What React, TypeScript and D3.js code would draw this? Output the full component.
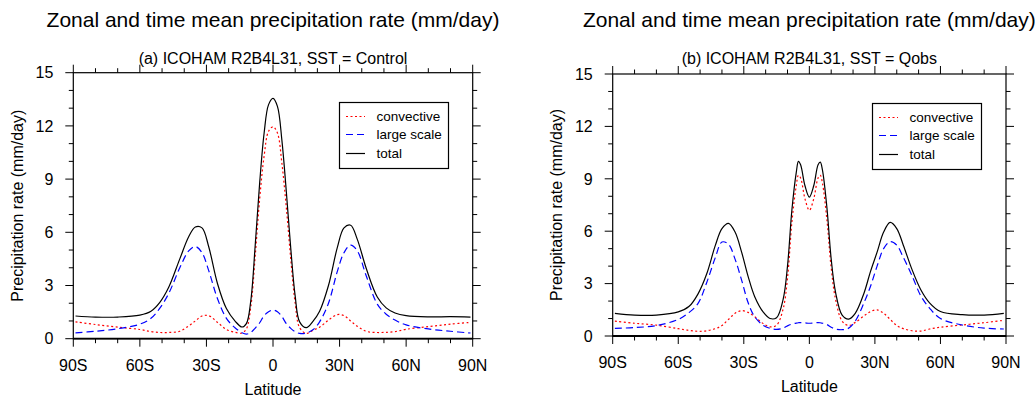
import React, { useEffect, useRef } from 'react';
import * as d3 from 'd3';

const W = 1035;
const H = 401;
const FONT = '"Liberation Sans", Arial, Helvetica, sans-serif';

const mainTitle = 'Zonal and time mean precipitation rate (mm/day)';
const subTitles = ['(a) ICOHAM R2B4L31, SST = Control', '(b) ICOHAM R2B4L31, SST = Qobs'];
const seriesNames = ['convective', 'large scale', 'total'];
const xTickValues = [-90, -60, -30, 0, 30, 60, 90];
const xTickLabels = ['90S', '60S', '30S', '0', '30N', '60N', '90N'];
const yTickValues = [0, 3, 6, 9, 12, 15];

// panel (a) - Control SST
const latA = [-89, -80, -70, -60, -55, -51, -47, -42, -38, -35, -32, -29, -25, -21, -17, -14, -12, -10, -8, -6, -4, -2, 0,
  2, 4, 6, 8, 10, 12, 15, 18, 21, 25, 29, 32, 35, 38, 42, 47, 51, 55, 60, 70, 80, 89];
const convA = [0.95, 0.8, 0.65, 0.52, 0.4, 0.35, 0.35, 0.42, 0.72, 1.0, 1.28, 1.3, 0.92, 0.52, 0.36, 0.32, 0.55, 1.8, 4.7, 7.9, 10.3, 11.7, 11.95,
  11.6, 9.9, 7.4, 4.5, 2.0, 0.62, 0.3, 0.48, 0.65, 1.05, 1.36, 1.3, 1.0, 0.7, 0.42, 0.35, 0.36, 0.4, 0.53, 0.68, 0.82, 0.92];
const largeA = [0.33, 0.42, 0.56, 0.82, 1.15, 1.72, 2.55, 4.0, 4.95, 5.2, 4.85, 3.85, 2.25, 1.15, 0.6, 0.34, 0.26, 0.35, 0.6, 0.9, 1.3, 1.52, 1.62,
  1.52, 1.25, 0.85, 0.58, 0.39, 0.3, 0.32, 0.5, 0.95, 2.0, 3.8, 4.85, 5.28, 4.95, 3.55, 1.95, 1.38, 1.05, 0.78, 0.55, 0.42, 0.32];
const totalA = [1.28, 1.22, 1.22, 1.33, 1.55, 2.05, 2.9, 4.5, 5.75, 6.3, 6.25, 5.2, 3.1, 1.7, 0.98, 0.66, 0.85, 2.15, 5.3, 8.8, 11.6, 13.2, 13.55,
  13.1, 11.2, 8.3, 5.1, 2.4, 0.95, 0.62, 0.98, 1.55, 3.0, 5.15, 6.25, 6.4, 5.6, 3.97, 2.35, 1.74, 1.45, 1.3, 1.23, 1.24, 1.22];

// panel (b) - Qobs SST
const latB = [-89, -80, -70, -60, -55, -51, -47, -43, -40, -37, -34, -31, -28, -25, -21, -18, -15, -12, -10, -8, -6, -5, -4, -2, 0,
  2, 4, 5, 6, 8, 10, 12, 15, 18, 21, 25, 28, 31, 34, 37, 40, 43, 47, 51, 55, 60, 70, 80, 89];
const convB = [0.85, 0.73, 0.62, 0.42, 0.32, 0.27, 0.3, 0.42, 0.6, 0.95, 1.3, 1.45, 1.35, 1.1, 0.7, 0.52, 0.62, 1.55, 3.3, 6.5, 8.6, 9.2, 9.05, 7.85, 7.2,
  7.85, 9.05, 9.2, 8.75, 6.7, 3.9, 2.1, 0.85, 0.6, 0.78, 1.15, 1.4, 1.5, 1.3, 0.95, 0.6, 0.42, 0.3, 0.28, 0.4, 0.5, 0.63, 0.76, 0.9];
const largeB = [0.44, 0.48, 0.6, 0.95, 1.35, 1.85, 3.05, 4.5, 5.38, 5.25, 4.4, 3.2, 1.9, 1.1, 0.6, 0.44, 0.38, 0.45, 0.58, 0.68, 0.74, 0.76, 0.77, 0.75, 0.73,
  0.75, 0.77, 0.76, 0.73, 0.66, 0.5, 0.4, 0.36, 0.45, 0.85, 1.9, 2.85, 4.0, 5.0, 5.4, 5.2, 4.5, 3.45, 2.3, 1.6, 1.0, 0.63, 0.45, 0.4];
const totalB = [1.3, 1.2, 1.2, 1.38, 1.7, 2.4, 3.55, 5.2, 6.15, 6.45, 5.95, 4.8, 3.4, 2.25, 1.35, 1.0, 1.05, 2.1, 4.0, 7.2, 9.35, 10.0, 9.8, 8.6, 7.95,
  8.6, 9.8, 9.95, 9.5, 7.4, 4.4, 2.5, 1.2, 0.97, 1.3, 2.45, 3.7, 4.8, 5.95, 6.5, 6.15, 5.2, 3.8, 2.65, 1.9, 1.4, 1.22, 1.2, 1.3];

const styles = [
  { color: '#ff0000', dash: '2,2.5' },
  { color: '#0000ff', dash: '7,4' },
  { color: '#000000', dash: null },
];

const panels = [
  { left: 73.3, right: 472.7, top: 72.7, bottom: 338.7, yTitleX: 22.5, lat: latA, series: [convA, largeA, totalA], sub: subTitles[0] },
  { left: 612.7, right: 1006, top: 74, bottom: 336, yTitleX: 562, lat: latB, series: [convB, largeB, totalB], sub: subTitles[1] },
];

const App = () => {
  const svgRef = useRef(null);

  useEffect(() => {
    const svg = d3.select(svgRef.current);
    svg.selectAll('*').remove();

    panels.forEach((p) => {
      const x = d3.scaleLinear().domain([-90, 90]).range([p.left, p.right]);
      const y = d3.scaleLinear().domain([0, 15]).range([p.bottom, p.top]);
      const cx = (p.left + p.right) / 2;
      const g = svg.append('g');

      // titles
      g.append('text').attr('x', cx).attr('y', 27).attr('text-anchor', 'middle')
        .attr('font-size', 21).text(mainTitle);
      g.append('text').attr('x', cx).attr('y', 64).attr('text-anchor', 'middle')
        .attr('font-size', 16).text(p.sub);

      // curves
      p.series.forEach((vals, i) => {
        const line = d3.line()
          .x((d) => x(d))
          .y((d, k) => y(vals[k]))
          .curve(d3.curveCatmullRom.alpha(0.5));
        g.append('path')
          .attr('d', line(p.lat))
          .attr('fill', 'none')
          .attr('stroke', styles[i].color)
          .attr('stroke-width', 1.2)
          .attr('stroke-dasharray', styles[i].dash);
      });

      // frame (bottom edge a bit heavier, as in the original)
      g.append('rect')
        .attr('x', p.left).attr('y', p.top)
        .attr('width', p.right - p.left).attr('height', p.bottom - p.top)
        .attr('fill', 'none').attr('stroke', '#000').attr('stroke-width', 1.2);
      g.append('line').attr('x1', p.left).attr('x2', p.right).attr('y1', p.bottom).attr('y2', p.bottom)
        .attr('stroke', '#000').attr('stroke-width', 1.8);

      // ticks, outward on all four sides
      const xMinor = d3.range(-90, 91, 10);
      const yMinor = d3.range(0, 16, 1);
      xMinor.forEach((v) => {
        const len = v % 30 === 0 ? 8 : 4.5;
        g.append('line').attr('x1', x(v)).attr('x2', x(v)).attr('y1', p.bottom).attr('y2', p.bottom + len).attr('stroke', '#000');
        g.append('line').attr('x1', x(v)).attr('x2', x(v)).attr('y1', p.top).attr('y2', p.top - len).attr('stroke', '#000');
      });
      yMinor.forEach((v) => {
        const len = v % 3 === 0 ? 8 : 4.5;
        g.append('line').attr('y1', y(v)).attr('y2', y(v)).attr('x1', p.left).attr('x2', p.left - len).attr('stroke', '#000');
        g.append('line').attr('y1', y(v)).attr('y2', y(v)).attr('x1', p.right).attr('x2', p.right + len).attr('stroke', '#000');
      });

      // tick labels
      xTickValues.forEach((v, i) => {
        g.append('text').attr('x', x(v)).attr('y', p.bottom + 32).attr('text-anchor', 'middle')
          .attr('font-size', 16).text(xTickLabels[i]);
      });
      yTickValues.forEach((v) => {
        g.append('text').attr('x', p.left - 20).attr('y', y(v)).attr('dy', '0.36em').attr('text-anchor', 'end')
          .attr('font-size', 16).text(v);
      });

      // axis titles
      g.append('text').attr('x', cx).attr('y', p.bottom + 56).attr('text-anchor', 'middle')
        .attr('font-size', 16).text('Latitude');
      g.append('text')
        .attr('transform', `translate(${p.yTitleX}, ${(p.top + p.bottom) / 2}) rotate(-90)`)
        .attr('text-anchor', 'middle').attr('font-size', 16).text('Precipitation rate (mm/day)');

      // legend
      const lx = Math.round(p.right - 25 - 109) + 0.5;
      const ly = Math.round(p.top + 29) + 0.5;
      g.append('rect').attr('x', lx).attr('y', ly).attr('width', 109).attr('height', 66)
        .attr('fill', '#fff').attr('stroke', '#000').attr('stroke-width', 1.2);
      const rows = [14, 32, 51];
      seriesNames.forEach((name, i) => {
        g.append('line')
          .attr('x1', lx + 6.5).attr('x2', lx + 25.5)
          .attr('y1', ly + rows[i]).attr('y2', ly + rows[i])
          .attr('stroke', styles[i].color).attr('stroke-width', 1.2)
          .attr('stroke-dasharray', styles[i].dash);
        g.append('text').attr('x', lx + 37).attr('y', ly + rows[i]).attr('dy', '0.35em')
          .attr('font-size', 13.5).text(name);
      });
    });
  }, []);

  return (
    <svg
      ref={svgRef}
      width={W}
      height={H}
      style={{ position: 'absolute', left: 0, top: 0, background: '#fff', fontFamily: FONT }}
    />
  );
};

export default App;
